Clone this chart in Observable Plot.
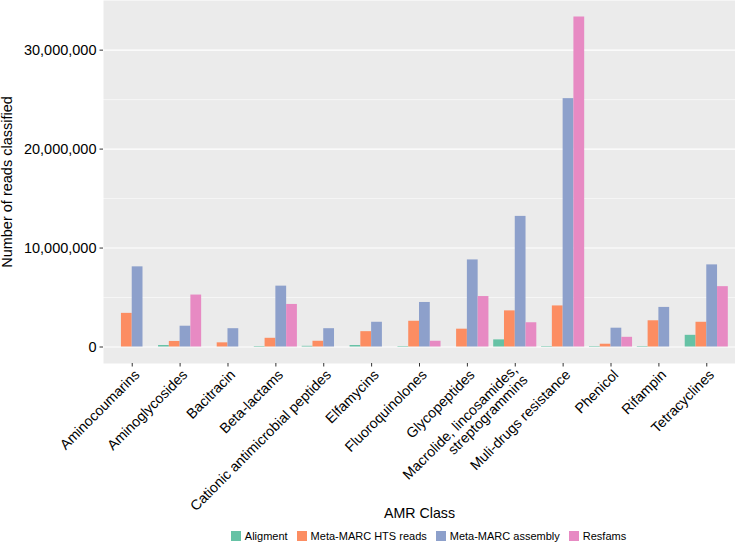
<!DOCTYPE html>
<html>
<head>
<meta charset="utf-8">
<script src="https://cdn.jsdelivr.net/npm/d3@7"></script>
<script src="https://cdn.jsdelivr.net/npm/@observablehq/plot@0.6"></script>
<style>
  html, body { margin: 0; padding: 0; background: #fff; }
  body { width: 735px; height: 542px; overflow: hidden; font-family: "Liberation Sans", Arial, sans-serif; }
  #legend { display: flex; justify-content: center; align-items: center; padding-left: 131px; margin-top: 8px; font-size: 11px; color: #000; }
  #legend .item { display: flex; align-items: center; margin-right: 9px; }
  #legend .sw { width: 10px; height: 10px; margin-right: 4px; }
</style>
</head>
<body>
<div id="chart"></div>
<div id="legend"></div>
<script>
const categories = [
  "Aminocoumarins", "Aminoglycosides", "Bacitracin", "Beta-lactams",
  "Cationic antimicrobial peptides", "Elfamycins", "Fluoroquinolones",
  "Glycopeptides", "Macrolide, lincosamides,\nstreptogrammins",
  "Muli-drugs resistance", "Phenicol", "Rifampin", "Tetracyclines"
];
const series = ["Aligment", "Meta-MARC HTS reads", "Meta-MARC assembly", "Resfams"];
const colors = ["#66C2A5", "#FC8D62", "#8DA0CB", "#E78AC3"];

const aligment = [0, 150000, 0, 50000, 70000, 150000, 50000, 0, 720000, 50000, 50000, 50000, 1180000];
const htsReads = [3400000, 560000, 420000, 880000, 580000, 1550000, 2600000, 1800000, 3650000, 4150000, 280000, 2650000, 2500000];
const assembly = [8100000, 2100000, 1850000, 6150000, 1850000, 2500000, 4500000, 8800000, 13200000, 25100000, 1900000, 4000000, 8300000];
const resfams = [0, 5250000, 0, 4300000, 0, 0, 580000, 5100000, 2450000, 33350000, 980000, 0, 6100000];

const majorTicks = [0, 10000000, 20000000, 30000000];
const minorTicks = [5000000, 15000000, 25000000];

const seriesValues = [aligment, htsReads, assembly, resfams];
// dodge layout like ggplot: each category occupies 0.9 of a unit, split evenly between series
const groupWidth = 0.9;
const barWidth = groupWidth / series.length;
const data = categories.flatMap((c, i) => series.map((s, j) => ({
  category: c, series: s, i, j, value: seriesValues[j][i]
})));
const tickIdx = d3.range(categories.length);

const maxV = d3.max(data, d => d.value);
const pad = maxV * 0.05;

const chart = Plot.plot({
  width: 735,
  height: 522,
  marginTop: 0,
  marginRight: 0,
  marginLeft: 103,
  marginBottom: 159,
  style: {fontFamily: "'Liberation Sans', Arial, sans-serif", fontSize: "14.5px", color: "#000", background: "#fff", overflow: "visible"},
  x: {domain: [-0.6, categories.length - 0.4]},
  y: {domain: [-pad, maxV + pad]},
  color: {domain: series, range: colors},
  marks: [
    Plot.frame({fill: "#EBEBEB", stroke: null}),
    Plot.ruleY(minorTicks, {stroke: "#fff", strokeWidth: 0.55}),
    Plot.ruleY(majorTicks, {stroke: "#fff", strokeWidth: 1.1}),
    Plot.rectY(data, {
      x1: d => d.i - groupWidth / 2 + barWidth * d.j,
      x2: d => d.i - groupWidth / 2 + barWidth * (d.j + 1),
      y1: 0, y2: "value", fill: "series"
    }),
    Plot.axisY(majorTicks, {
      tickFormat: d3.format(","), tickSize: 3.5, tickPadding: 3.5, stroke: "#333", fill: "#000",
      fontSize: 14.5, label: "Number of reads classified", labelAnchor: "center", labelOffset: 101.5, labelArrow: "none"
    }),
    // tick marks only
    Plot.axisX(tickIdx, {
      tickFormat: () => "", tickSize: 3.5, stroke: "#333", label: null
    }),
    // rotated tick labels
    Plot.axisX(tickIdx, {
      tickFormat: i => categories[i], tickRotate: -45, tickSize: 0, tickPadding: 9, dx: 5, fill: "#000",
      fontSize: 14.2, label: "AMR Class", labelAnchor: "center", labelOffset: 154, labelArrow: "none"
    })
  ]
});
document.getElementById("chart").appendChild(chart);

const legend = document.getElementById("legend");
series.forEach((s, i) => {
  const item = document.createElement("div");
  item.className = "item";
  const sw = document.createElement("div");
  sw.className = "sw";
  sw.style.background = colors[i];
  const t = document.createElement("span");
  t.textContent = s;
  item.appendChild(sw);
  item.appendChild(t);
  legend.appendChild(item);
});
</script>
</body>
</html>
